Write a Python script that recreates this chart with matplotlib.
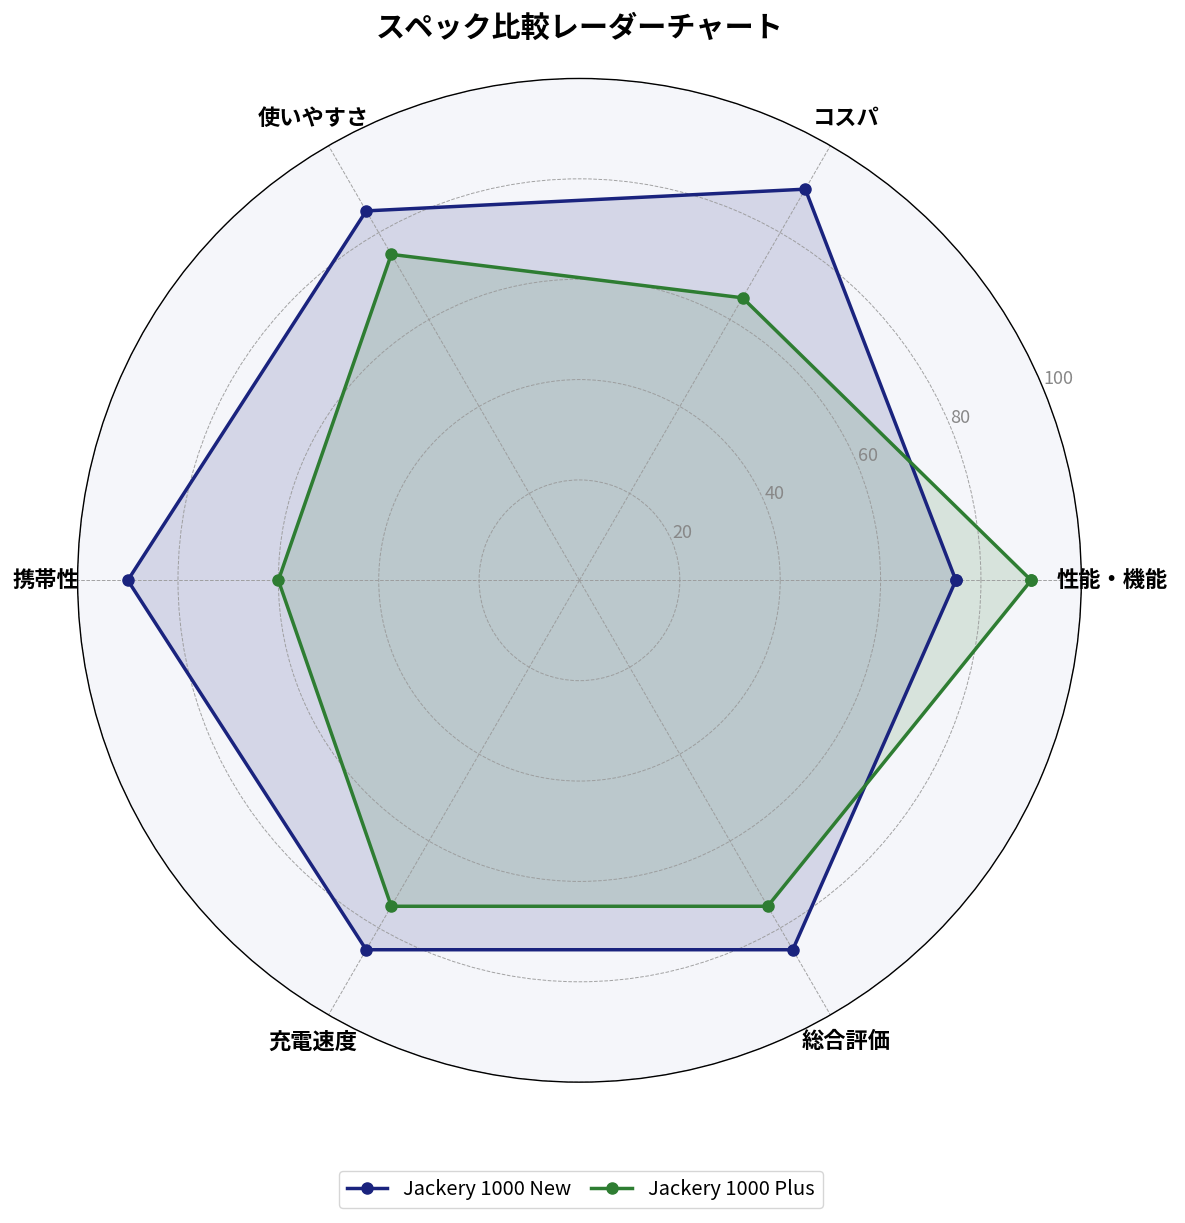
import numpy as np
import matplotlib
matplotlib.use("Agg")
import matplotlib.pyplot as plt

plt.rcParams['font.family'] = ['Noto Sans CJK JP', 'DejaVu Sans']

categories = ['性能・機能', 'コスパ', '使いやすさ', '携帯性', '充電速度', '総合評価']
series_names = ['Jackery 1000 New', 'Jackery 1000 Plus']
values_new = [75, 90, 85, 90, 85, 85]
values_plus = [90, 65, 75, 60, 75, 75]
colors = ['#1a237e', '#2e7d32']
rticks = [20, 40, 60, 80, 100]

n = len(categories)
angles = np.linspace(0, 2 * np.pi, n, endpoint=False).tolist()
angles_c = angles + angles[:1]

fig = plt.figure(figsize=(11.85, 12.23), dpi=100)
ax = fig.add_axes([0.0655, 0.115, 0.847, 0.821], projection='polar')
ax.set_facecolor('#f5f6fa')

for vals, name, col in zip([values_new, values_plus], series_names, colors):
    v = vals + vals[:1]
    ax.plot(angles_c, v, color=col, linewidth=2.5, marker='o', markersize=8, label=name)
    ax.fill(angles_c, v, color=col, alpha=0.15)

ax.set_ylim(0, 100)
ax.set_yticks(rticks)
ax.set_yticklabels([str(t) for t in rticks], color='#888888', fontsize=13)
ax.set_rlabel_position(22.5)
ax.set_xticks(angles)
ax.set_xticklabels(categories, fontsize=16, fontweight='bold')
ax.tick_params(axis='x', pad=12)
ax.grid(color='#999999', linestyle='--', linewidth=0.7, alpha=0.9)
ax.spines['polar'].set_color('black')
ax.spines['polar'].set_linewidth(1.0)

fig.text(0.4895, 0.977, 'スペック比較レーダーチャート', fontsize=21, fontweight='bold',
         ha='center', va='center')
fig.legend(loc='lower center', ncol=2, bbox_to_anchor=(0.49, 0.004), fontsize=14.5,
           handlelength=2.0, columnspacing=1.0)

fig.savefig('out.png', dpi=100)
